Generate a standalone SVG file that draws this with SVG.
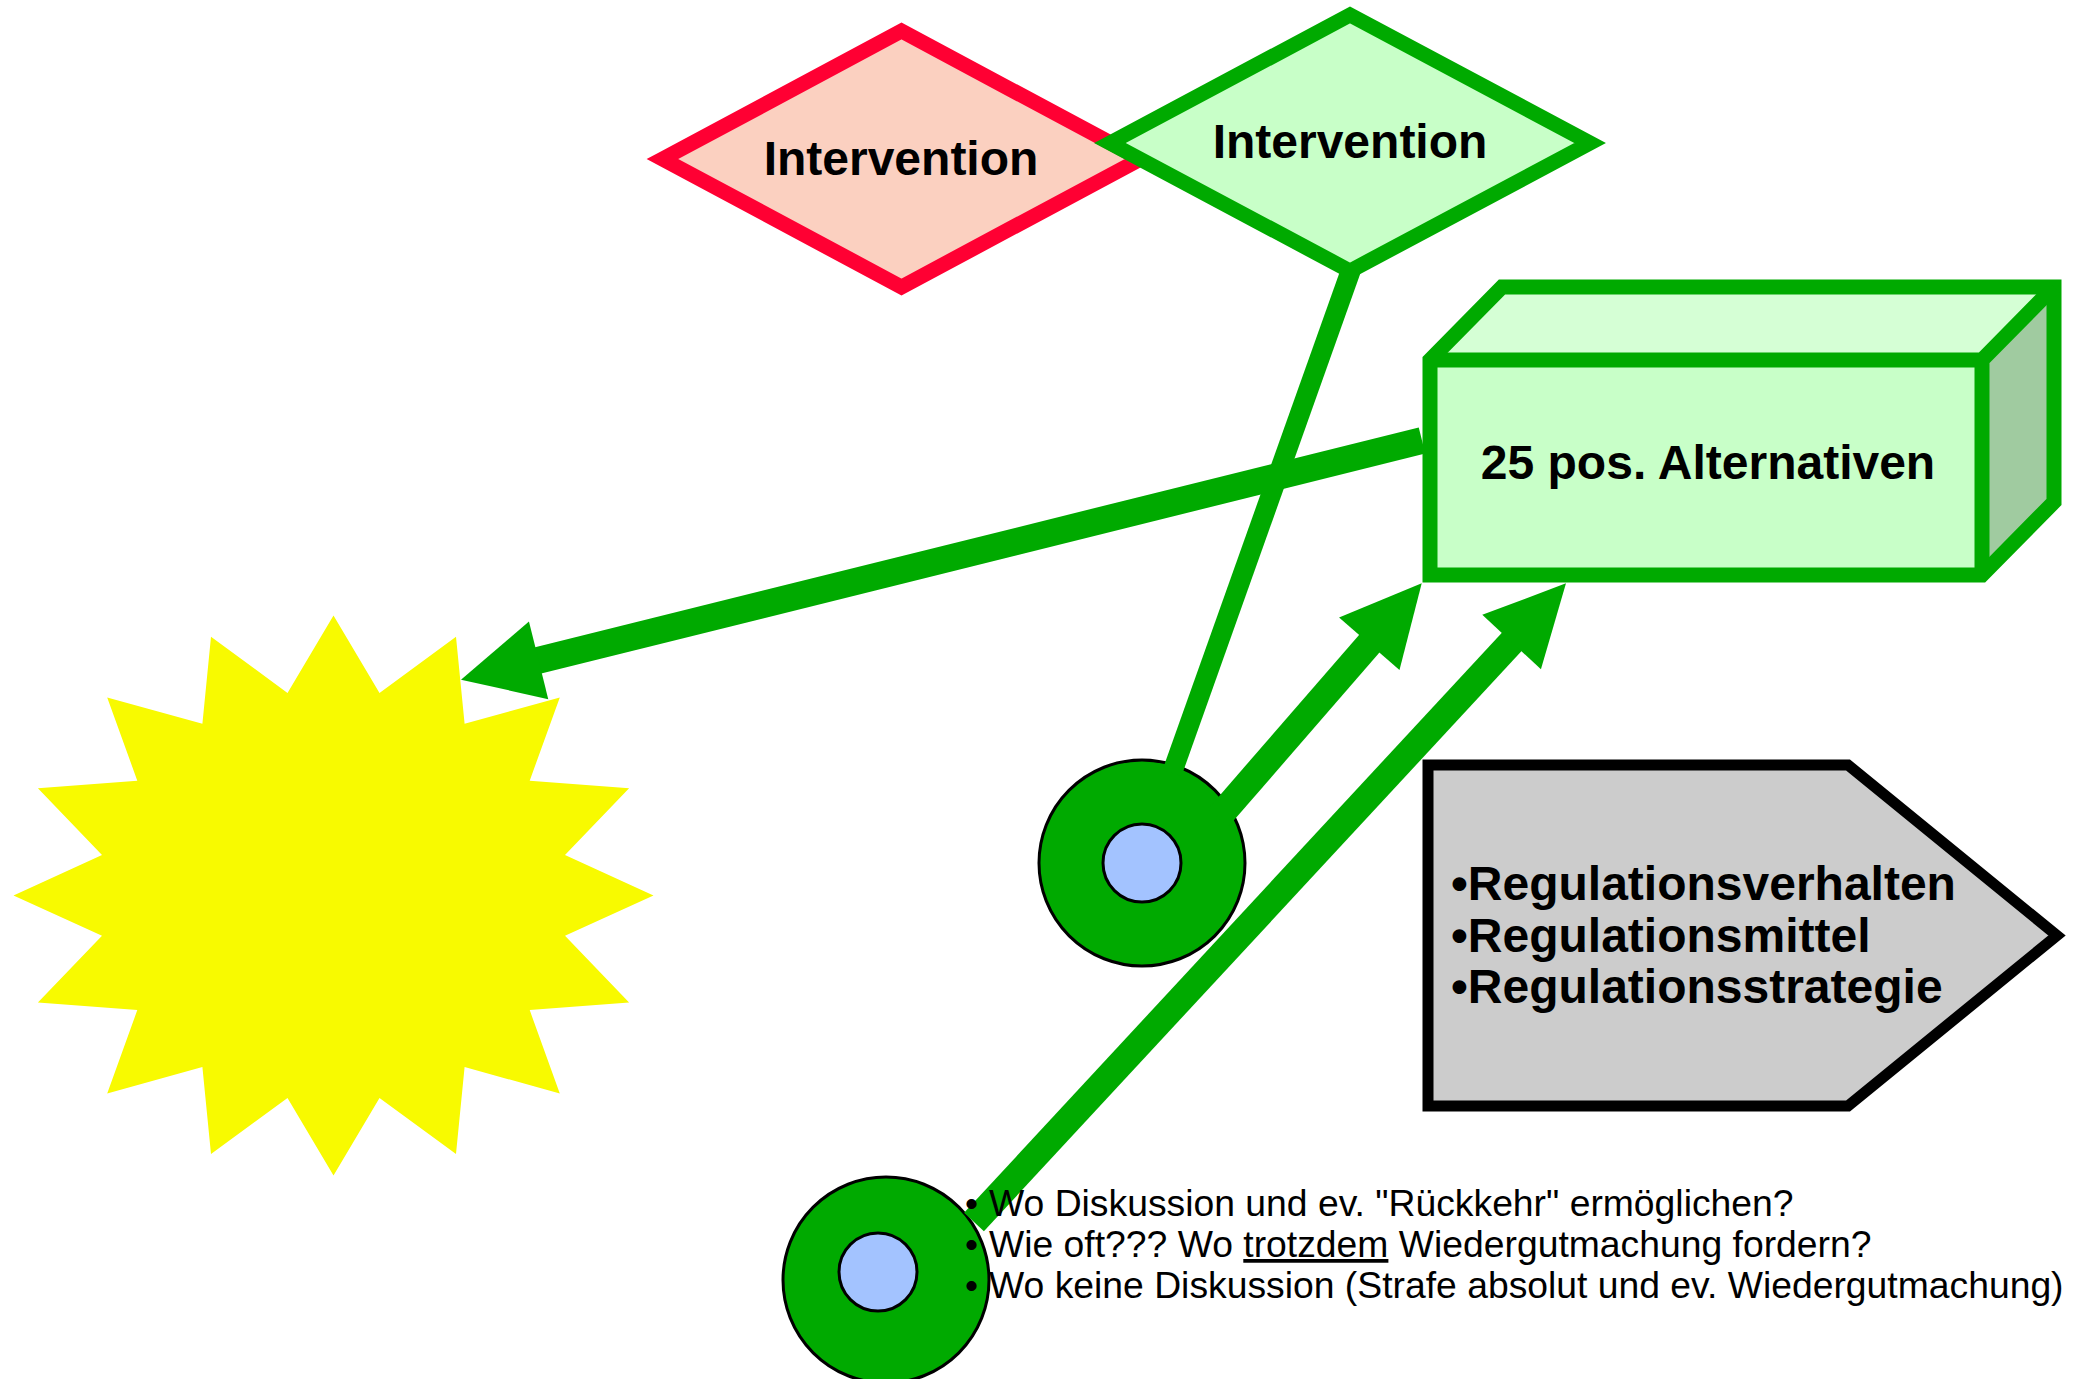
<svg xmlns="http://www.w3.org/2000/svg" width="2085" height="1379" viewBox="0 0 2085 1379">
<style>
.lbl{font-family:"Liberation Sans",Arial,Helvetica,sans-serif;font-weight:bold;font-size:48px;fill:#000}
.note{font-family:"Liberation Sans",Arial,Helvetica,sans-serif;font-size:37.3px;fill:#000}
.conn{stroke:#00AA00;fill:none;stroke-width:27;stroke-linecap:butt}
.thin{stroke-width:20}
.gline{stroke:#00AA00;stroke-width:15;stroke-linejoin:miter;fill:none}
.disc{stroke:#000;stroke-width:3}
</style>
<defs>
<marker id="ah" markerUnits="userSpaceOnUse" viewBox="0 0 80 80" markerWidth="80" markerHeight="80" refX="40" refY="40" orient="auto" overflow="visible">
<path d="M0,0 L80,40 L0,80 z" fill="#00AA00"/>
</marker>
</defs>
<rect width="2085" height="1379" fill="#fff"/>

<g id="star">
<polygon fill="#F8FA00" points="333.5,615.4 379.5,692.9 456,636.7 464.6,723.7 559.8,697.4 529.7,780.7 629.1,788.2 565,855.1 653.5,895.4 565,935.7 629.1,1002.6 529.7,1010.1 559.8,1093.4 464.6,1067.1 456,1154.1 379.5,1097.9 333.5,1175.4 287.5,1097.9 211,1154.1 202.4,1067.1 107.2,1093.4 137.3,1010.1 37.9,1002.6 102,935.7 13.5,895.4 102,855.1 37.9,788.2 137.3,780.7 107.2,697.4 202.4,723.7 211,636.7 287.5,692.9"/>
</g>

<g id="intervention-red">
<polygon points="662.5,159 901.5,31 1140.5,159 901.5,287" fill="#FBD0C0" stroke="#FF0033" stroke-width="15"/>
<text class="lbl" x="901" y="175" text-anchor="middle">Intervention</text>
</g>

<g id="intervention-green">
<polygon points="1110,143 1350,15 1590,143 1350,271" fill="#C8FFC8" stroke="#00AA00" stroke-width="15"/>
<text class="lbl" x="1350" y="158" text-anchor="middle">Intervention</text>
</g>

<g id="alternativen">
<polygon points="1430,360 1502,287 2054,287 1982,360" fill="#D5FFD5"/>
<polygon points="1982,360 2054,287 2054,502 1982,575" fill="#A0CBA0"/>
<rect x="1430" y="360" width="552" height="215" fill="#C8FFC8"/>
<path class="gline" d="M1430,575 L1430,360 L1502,287 L2054,287 L2054,502 L1982,575 Z"/>
<path class="gline" d="M1430,360 L1982,360 L1982,575 M1982,360 L2054,287"/>
<text class="lbl" x="1708" y="479" text-anchor="middle">25 pos. Alternativen</text>
</g>

<g id="regulation">
<polygon points="1428,765 1848,765 2057,935.5 1848,1106 1428,1106" fill="#CCCCCC" stroke="#000" stroke-width="11"/>
<text class="lbl" x="1451" y="900">•Regulationsverhalten</text>
<text class="lbl" x="1451" y="951.5">•Regulationsmittel</text>
<text class="lbl" x="1451" y="1003">•Regulationsstrategie</text>
</g>

<g id="person-1">
<circle class="disc" cx="1142" cy="863" r="103" fill="#00AA00"/>
<circle class="disc" cx="1142" cy="863" r="39" fill="#A3C3FF"/>
</g>

<g id="person-2">
<circle class="disc" cx="886" cy="1280" r="103" fill="#00AA00"/>
<circle class="disc" cx="878" cy="1272" r="39" fill="#A3C3FF"/>
</g>

<g id="connectors">
<line class="conn thin" x1="1351" y1="270" x2="1172" y2="773"/>
<line class="conn" x1="1422" y1="440.5" x2="499.8" y2="670" marker-end="url(#ah)"/>
<line class="conn" x1="1218" y1="818" x2="1395.5" y2="613.5" marker-end="url(#ah)"/>
<line class="conn" x1="974" y1="1222" x2="1538.8" y2="612.7" marker-end="url(#ah)"/>
</g>

<g id="notes">
<text class="note" y="1216"><tspan x="965">•</tspan><tspan x="989">Wo Diskussion und ev. "Rückkehr" ermöglichen?</tspan></text>
<text class="note" y="1257"><tspan x="965">•</tspan><tspan x="989">Wie oft??? Wo </tspan><tspan text-decoration="underline">trotzdem</tspan><tspan> Wiedergutmachung fordern?</tspan></text>
<text class="note" y="1298"><tspan x="965">•</tspan><tspan x="989">Wo keine Diskussion (Strafe absolut und ev. Wiedergutmachung)</tspan></text>
</g>
</svg>
